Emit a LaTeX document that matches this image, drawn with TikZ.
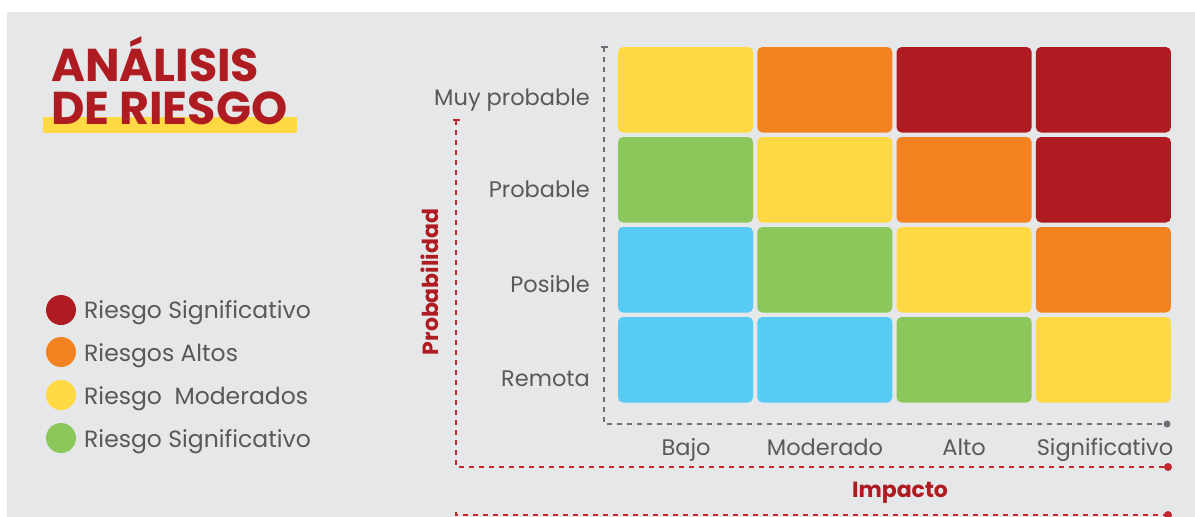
\documentclass[tikz,border=0pt]{standalone}
\usepackage{fontspec}
\setmainfont{Poppins}
\usepackage{tikz}
\usetikzlibrary{positioning}

\definecolor{bgGrey}{HTML}{E6E7E8}
\definecolor{txtGrey}{HTML}{58595B}
\definecolor{riskRed}{HTML}{AE1C22}
\definecolor{riskOrange}{HTML}{F48221}
\definecolor{riskYellow}{HTML}{FFD944}
\definecolor{riskGreen}{HTML}{8BC75A}
\definecolor{riskBlue}{HTML}{58CBF5}
\definecolor{axisRed}{HTML}{C1272D}
\definecolor{axisGrey}{HTML}{6D6E71}

\begin{document}
\begin{tikzpicture}
    [x=1pt,y=-1pt,
     cell/.style={rounded corners=5pt,minimum width=135pt,minimum height=85.5pt,inner sep=0pt},
     rowlbl/.style={anchor=base east,inner sep=0pt,text=txtGrey,font=\fontsize{22.5}{26}\selectfont},
     collbl/.style={anchor=base,inner sep=0pt,text=txtGrey,font=\fontsize{22.5}{26}\selectfont},
     keydot/.style={circle,minimum size=30pt,inner sep=0pt},
     keylbl/.style={anchor=base west,inner sep=0pt,text=txtGrey,font=\fontsize{23.5}{26}\selectfont},
     titlelbl/.style={anchor=base west,inner sep=0pt,text=riskRed,font=\bfseries\fontsize{46}{50}\selectfont},
     axislbl/.style={text=riskRed,font=\bfseries\fontsize{22}{24}\selectfont},
     greyaxis/.style={axisGrey,line width=1.4pt,dash pattern=on 5pt off 5pt},
     redaxis/.style={axisRed,line width=1.4pt,dash pattern=on 5pt off 5pt}]

    % page and panel
    \useasboundingbox[fill=white] (0,0) rectangle (1195,517);
    \fill[bgGrey] (7,12) rectangle (1195,517);

    % title
    \fill[riskYellow] (43,117) rectangle (297,133);
    \node[titlelbl] (title1) at (51,81) {ANÁLISIS};
    \node[titlelbl] (title2) at (51,124) {DE RIESGO};

    % grid of cells
    \foreach \r/\cA/\cB/\cC/\cD in {1/riskYellow/riskOrange/riskRed/riskRed,
                                   2/riskGreen/riskYellow/riskOrange/riskRed,
                                   3/riskBlue/riskGreen/riskYellow/riskOrange,
                                   4/riskBlue/riskBlue/riskGreen/riskYellow}{
        \node[cell,fill=\cA] (c\r1) at (685.5,{89.75+90*(\r-1)}) {};
        \node[cell,fill=\cB] (c\r2) at (824.8,{89.75+90*(\r-1)}) {};
        \node[cell,fill=\cC] (c\r3) at (964.1,{89.75+90*(\r-1)}) {};
        \node[cell,fill=\cD] (c\r4) at (1103.4,{89.75+90*(\r-1)}) {};
    }

    % row labels
    \node[rowlbl] (muy) at (590,105) {Muy probable};
    \node[rowlbl] (prob) at (590,197) {Probable};
    \node[rowlbl] (pos) at (590,292) {Posible};
    \node[rowlbl] (rem) at (590,386) {Remota};

    % column labels
    \node[collbl] (bajo) at (686,455) {Bajo};
    \node[collbl] (mod) at (825,455) {Moderado};
    \node[collbl] (alto) at (964,455) {Alto};
    \node[collbl] (sig) at (1105,455) {Significativo};

    % grey axis
    \coordinate (gTop) at (604,47);
    \coordinate (gCorner) at (604,424);
    \coordinate (gEnd) at (1167,424);
    \draw[greyaxis] (gTop) -- (gCorner) -- (gEnd);
    \draw[axisGrey,line width=1.2pt] ([xshift=-3.5pt]gTop) -- ([xshift=3.5pt]gTop);
    \fill[axisGrey] (gEnd) circle (3.5pt);

    % red axis
    \coordinate (rTop) at (456,120);
    \coordinate (rCorner) at (456,467);
    \coordinate (rEnd) at (1168,467);
    \draw[redaxis] (rTop) -- (rCorner) -- (rEnd);
    \draw[axisRed,line width=1.2pt] ([xshift=-3.5pt]rTop) -- ([xshift=3.5pt]rTop);
    \fill[axisRed] (rEnd) circle (4pt);

    \coordinate (bStart) at (456,515);
    \coordinate (bEnd) at (1168,515);
    \draw[redaxis] ([yshift=3pt]bStart) -- (bStart) -- (bEnd);
    \fill[axisRed] (bEnd) circle (4pt);

    \node[axislbl,rotate=90] (probab) at (430,282) {Probabilidad};
    \node[axislbl] (impacto) at (900,493) {Impacto};

    % legend
    \node[keydot,fill=riskRed] (k1) at (61,310) {};
    \node[keydot,fill=riskOrange] (k2) at (61,352) {};
    \node[keydot,fill=riskYellow] (k3) at (61,395) {};
    \node[keydot,fill=riskGreen] (k4) at (61,438) {};
    \node[keylbl] (t1) at (84,318) {Riesgo Significativo};
    \node[keylbl] (t2) at (84,361) {Riesgos Altos};
    \node[keylbl] (t3) at (84,404) {Riesgo\ \ Moderados};
    \node[keylbl] (t4) at (84,447) {Riesgo Significativo};
\end{tikzpicture}
\end{document}
